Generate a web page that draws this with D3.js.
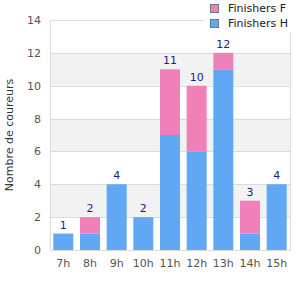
<!DOCTYPE html>
<html>
<head>
<meta charset="utf-8">
<script src="https://cdn.jsdelivr.net/npm/d3@7"></script>
<style>
  body { margin: 0; background: #fff; }
  text { font-family: "DejaVu Sans", sans-serif; }
</style>
</head>
<body>
<div id="chart"></div>
<script>
var heures = ['7h', '8h', '9h', '10h', '11h', '12h', '13h', '14h', '15h'];
var finishersH = [1, 1, 4, 2, 7, 6, 11, 1, 4];
var finishersF = [0, 1, 0, 0, 4, 4, 1, 2, 0];
var yTicks = [0, 2, 4, 6, 8, 10, 12, 14];
var seriesNames = ['Finishers F', 'Finishers H'];
var colors = { 'Finishers H': '#60a8f4', 'Finishers F': '#f080b8' };

var width = 300, height = 300;
var margin = { top: 20, right: 10, bottom: 50, left: 50 };

var svg = d3.select('#chart').append('svg')
  .attr('width', width)
  .attr('height', height);

var x = d3.scaleBand()
  .domain(heures)
  .range([margin.left, width - margin.right])
  .paddingInner(0.25)
  .paddingOuter(0.125);

var y = d3.scaleLinear()
  .domain([0, 14])
  .range([height - margin.bottom, margin.top]);

// bandes grises alternées
for (var t = 2; t < 14; t += 4) {
  svg.append('rect')
    .attr('x', margin.left)
    .attr('y', y(t + 2))
    .attr('width', width - margin.right - margin.left)
    .attr('height', y(t) - y(t + 2))
    .attr('fill', '#f2f2f2');
}

svg.selectAll('line.grid')
  .data(yTicks)
  .enter().append('line')
  .attr('class', 'grid')
  .attr('x1', margin.left)
  .attr('x2', width - margin.right)
  .attr('y1', function(d) { return Math.round(y(d)) + 0.5; })
  .attr('y2', function(d) { return Math.round(y(d)) + 0.5; })
  .attr('stroke', '#dcdcdc');

// cadre
svg.append('line')
  .attr('x1', margin.left + 0.5).attr('x2', margin.left + 0.5)
  .attr('y1', margin.top).attr('y2', height - margin.bottom)
  .attr('stroke', '#dcdcdc');
svg.append('line')
  .attr('x1', width - margin.right + 0.5).attr('x2', width - margin.right + 0.5)
  .attr('y1', margin.top).attr('y2', height - margin.bottom + 1)
  .attr('stroke', '#dcdcdc');

var table = heures.map(function(h, i) {
  return { heure: h, 'Finishers H': finishersH[i], 'Finishers F': finishersF[i] };
});
var stack = d3.stack().keys(['Finishers H', 'Finishers F'])(table);

svg.selectAll('g.serie')
  .data(stack)
  .enter().append('g')
  .attr('fill', function(d) { return colors[d.key]; })
  .selectAll('rect')
  .data(function(d) { return d; })
  .enter().append('rect')
  .attr('x', function(d) { return x(d.data.heure); })
  .attr('width', x.bandwidth())
  .attr('y', function(d) { return y(d[1]); })
  .attr('height', function(d) { return y(d[0]) - y(d[1]); });

// totaux
svg.selectAll('text.total')
  .data(table)
  .enter().append('text')
  .attr('class', 'total')
  .attr('x', function(d) { return x(d.heure) + x.bandwidth() / 2; })
  .attr('y', function(d) { return y(d['Finishers H'] + d['Finishers F']) - 5; })
  .attr('text-anchor', 'middle')
  .attr('font-family', '"Liberation Sans", Arial, sans-serif')
  .attr('font-size', '11px')
  .attr('fill', '#1c1c8c')
  .text(function(d) { return d['Finishers H'] + d['Finishers F']; });

// axes
svg.append('g')
  .attr('transform', 'translate(0,' + (height - margin.bottom) + ')')
  .call(d3.axisBottom(x).tickSize(0).tickPadding(9))
  .call(function(g) { g.select('.domain').remove(); })
  .selectAll('text')
  .attr('font-family', '"Liberation Sans", Arial, sans-serif')
  .attr('font-size', '11px')
  .attr('fill', '#555');

svg.append('g')
  .attr('transform', 'translate(' + margin.left + ',0)')
  .call(d3.axisLeft(y).tickValues(yTicks).tickSize(0).tickPadding(9))
  .call(function(g) { g.select('.domain').remove(); })
  .selectAll('text')
  .attr('font-size', '11px')
  .attr('fill', '#555');

svg.append('text')
  .attr('transform', 'translate(9,' + ((margin.top + height - margin.bottom) / 2) + ') rotate(-90)')
  .attr('text-anchor', 'middle')
  .attr('dy', '0.35em')
  .attr('font-size', '11px')
  .attr('fill', '#333')
  .text('Nombre de coureurs');

// légende
var legend = svg.append('g');
legend.append('rect')
  .attr('x', 204).attr('y', 0)
  .attr('width', 96).attr('height', 32)
  .attr('fill', '#fff');
var items = legend.selectAll('g.item')
  .data(seriesNames)
  .enter().append('g')
  .attr('transform', function(d, i) { return 'translate(210,' + (4 + i * 15) + ')'; });
items.append('rect')
  .attr('x', 0.5).attr('y', 0.5)
  .attr('width', 8).attr('height', 8)
  .attr('fill', function(d) { return colors[d]; })
  .attr('stroke', '#777');
items.append('text')
  .attr('x', 18).attr('y', 4.5)
  .attr('dy', '0.35em')
  .attr('font-size', '11px')
  .attr('fill', '#222')
  .text(function(d) { return d; });
</script>
</body>
</html>
